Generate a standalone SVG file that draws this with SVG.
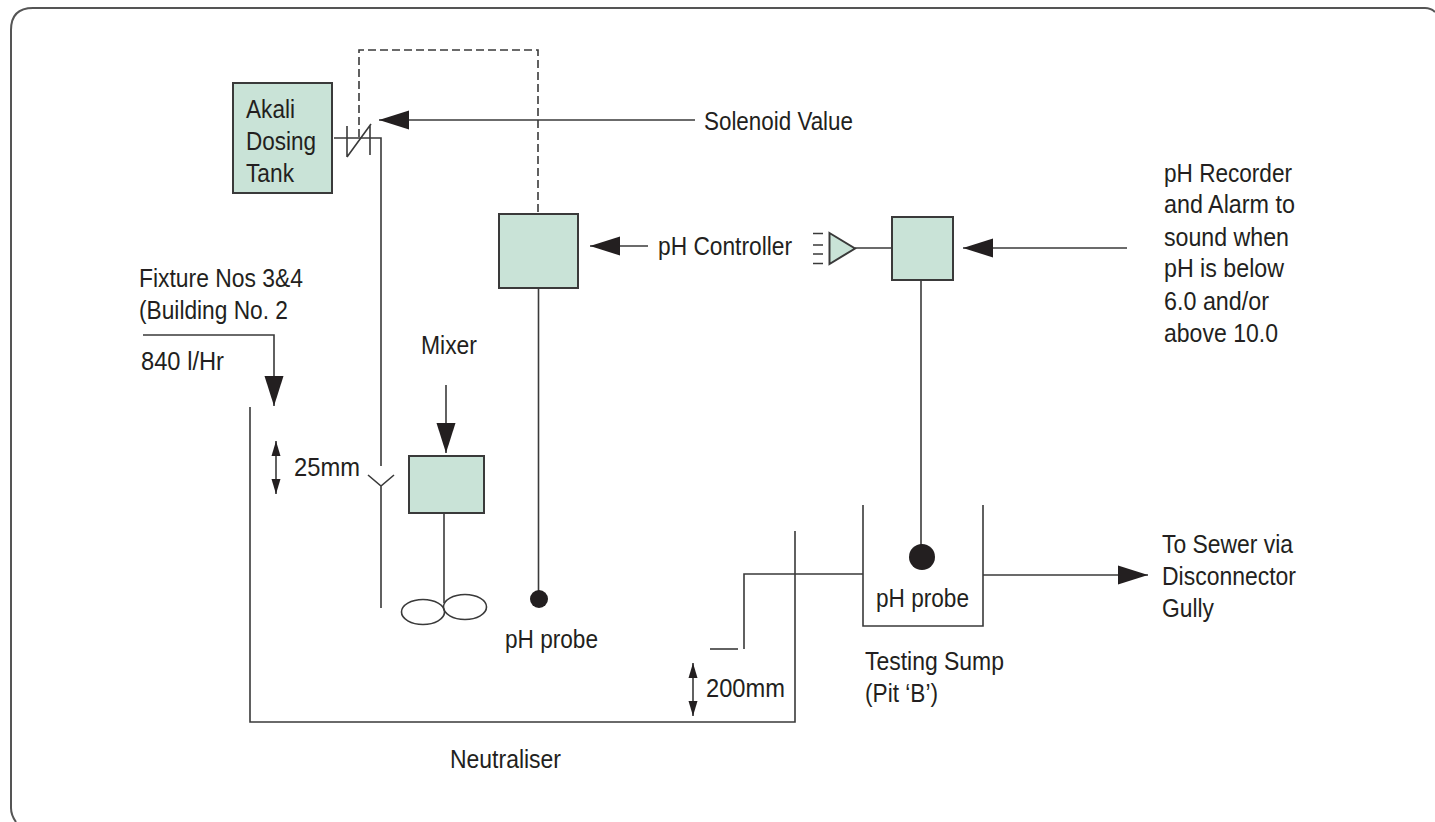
<svg xmlns="http://www.w3.org/2000/svg" width="1435" height="822" viewBox="0 0 1435 822">
<style>
text{font-family:"Liberation Sans",Arial,sans-serif;font-size:26px;fill:#231f20}
.l{fill:none;stroke:#3a3a3a;stroke-width:1.6}
.f{fill:none;stroke:#555;stroke-width:2}
.b{fill:#c9e3d7;stroke:#3a3a3a;stroke-width:2}
</style>
<defs>
<marker id="a" markerUnits="userSpaceOnUse" markerWidth="32" markerHeight="20" refX="30" refY="10" orient="auto-start-reverse"><path d="M0,0.500L30,10L0,19.500Z" fill="#231f20"/></marker>
<marker id="s" markerUnits="userSpaceOnUse" markerWidth="16" markerHeight="12" refX="15" refY="5" orient="auto-start-reverse"><path d="M0,0.500L15,5L0,9.500Z" fill="#231f20"/></marker>
</defs>
<rect width="1435" height="822" fill="#fff"/>
<path class="f" d="M16,822Q11,815 11,808V30Q11,8 33,8H1425Q1431,8 1435,12"/>
<g id="connectors">
<path class="l" stroke-dasharray="8,4" d="M359,137V50H538V214"/>
<path class="l" d="M334,138H381V466"/>
<path class="l" d="M347,126V157M370,125V155M347,157L371,124"/>
<path class="l" d="M695,120H379" marker-end="url(#a)"/>
<path class="l" d="M648,246H590" marker-end="url(#a)"/>
<path class="l" d="M1127,248H963" marker-end="url(#a)"/>
<path class="l" d="M538.500,288V598"/>
<path class="l" d="M855,248H892"/>
<path class="l" d="M921,281V545"/>
<path class="l" d="M446,385V453" marker-end="url(#a)"/>
<path class="l" d="M444,513V603"/>
<path class="l" d="M143,335H274V406" marker-end="url(#a)"/>
<path class="l" d="M276,441V494" marker-start="url(#s)" marker-end="url(#s)"/>
<path class="l" d="M693,663V716" marker-start="url(#s)" marker-end="url(#s)"/>
<path class="l" d="M368,475L381,486L394,475M381,486V608"/>
<path class="l" d="M250,407V722H795V531"/>
<path class="l" d="M744,649V574H863"/>
<path class="l" d="M710,649H738"/>
<path class="l" d="M863,505V626H983V505"/>
<path class="l" d="M983,575H1148" marker-end="url(#a)"/>
<path class="l" d="M813,233.500H823M813,245H823M813,254H823M813,263.500H823"/>
</g>
<g id="tank"><rect class="b" x="233" y="83" width="99" height="110"/><text x="246" y="118" textLength="49" lengthAdjust="spacingAndGlyphs">Akali</text><text x="246" y="150" textLength="70" lengthAdjust="spacingAndGlyphs">Dosing</text><text x="246" y="182" textLength="48" lengthAdjust="spacingAndGlyphs">Tank</text></g>
<g id="controller"><rect class="b" x="499" y="214" width="79" height="74"/></g>
<g id="recorder"><rect class="b" x="892" y="217" width="61" height="63"/></g>
<g id="alarm"><path class="b" d="M829.500,233L855,248.500L829.500,264Z"/></g>
<g id="mixer"><rect class="b" x="409" y="456" width="75" height="57"/></g>
<g id="impeller"><ellipse class="l" cx="423" cy="612" rx="21.500" ry="12.500"/><ellipse cx="465" cy="607" rx="21.500" ry="12.500" class="l"/></g>
<g id="probe1"><circle cx="539" cy="599" r="9" fill="#231f20"/><text x="505" y="648" textLength="93" lengthAdjust="spacingAndGlyphs">pH probe</text></g>
<g id="probe2"><circle cx="922" cy="557" r="13" fill="#231f20"/><text x="876" y="607" textLength="93" lengthAdjust="spacingAndGlyphs">pH probe</text></g>
<g id="labels">
<text x="704" y="130" textLength="149" lengthAdjust="spacingAndGlyphs">Solenoid Value</text>
<text x="658" y="255" textLength="134" lengthAdjust="spacingAndGlyphs">pH Controller</text>
<text x="1164" y="182" textLength="128" lengthAdjust="spacingAndGlyphs">pH Recorder</text>
<text x="1164" y="213" textLength="131" lengthAdjust="spacingAndGlyphs">and Alarm to</text>
<text x="1164" y="246" textLength="125" lengthAdjust="spacingAndGlyphs">sound when</text>
<text x="1164" y="277" textLength="120" lengthAdjust="spacingAndGlyphs">pH is below</text>
<text x="1164" y="310" textLength="105" lengthAdjust="spacingAndGlyphs">6.0 and/or</text>
<text x="1164" y="342" textLength="114" lengthAdjust="spacingAndGlyphs">above 10.0</text>
<text x="139" y="287" textLength="164" lengthAdjust="spacingAndGlyphs">Fixture Nos 3&amp;4</text>
<text x="139" y="319" textLength="149" lengthAdjust="spacingAndGlyphs">(Building No. 2</text>
<text x="141" y="370" textLength="83" lengthAdjust="spacingAndGlyphs">840 l/Hr</text>
<text x="421" y="354" textLength="56" lengthAdjust="spacingAndGlyphs">Mixer</text>
<text x="294" y="476" textLength="66" lengthAdjust="spacingAndGlyphs">25mm</text>
<text x="706" y="697" textLength="79" lengthAdjust="spacingAndGlyphs">200mm</text>
<text x="865" y="670" textLength="139" lengthAdjust="spacingAndGlyphs">Testing Sump</text>
<text x="865" y="702" textLength="73" lengthAdjust="spacingAndGlyphs">(Pit ‘B’)</text>
<text x="450" y="768" textLength="111" lengthAdjust="spacingAndGlyphs">Neutraliser</text>
<text x="1162" y="553" textLength="131" lengthAdjust="spacingAndGlyphs">To Sewer via</text>
<text x="1162" y="585" textLength="134" lengthAdjust="spacingAndGlyphs">Disconnector</text>
<text x="1162" y="617" textLength="52" lengthAdjust="spacingAndGlyphs">Gully</text>
</g>
</svg>
